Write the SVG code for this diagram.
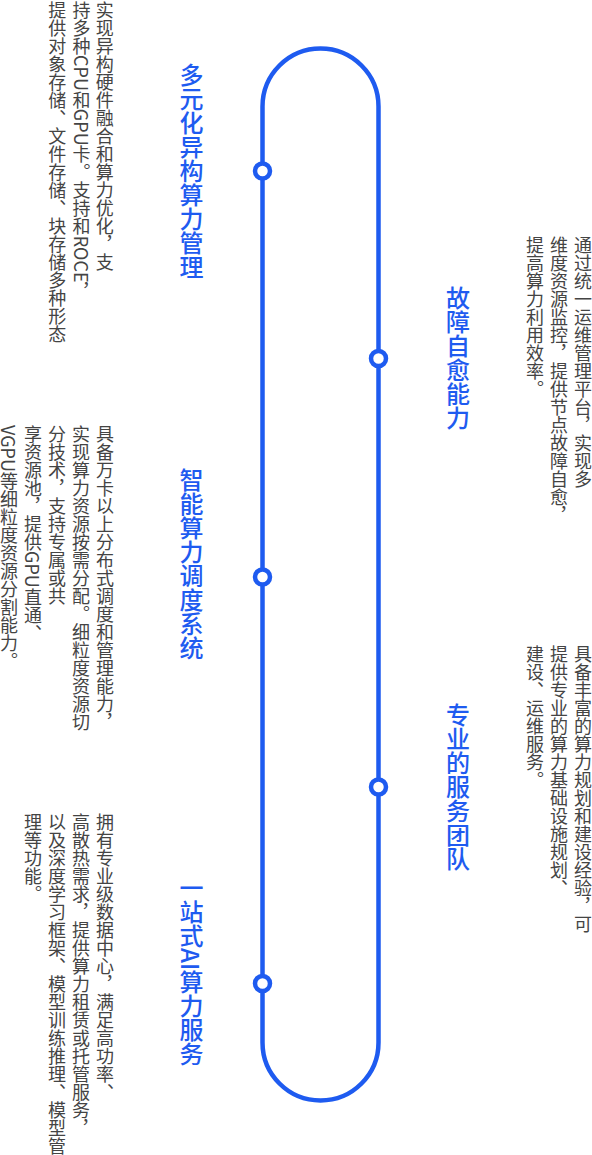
<svg xmlns="http://www.w3.org/2000/svg" width="592" height="1155" viewBox="0 0 592 1155">
<style>
.track{fill:none;stroke:#1e5bf0;stroke-width:4.5}
.dot{fill:#fff;stroke:#1e5bf0;stroke-width:4.5}
.title{font-family:"Noto Sans CJK SC","Noto Sans",sans-serif;font-size:24px;font-weight:500;fill:#1e5bf0;writing-mode:vertical-rl}
.body{font-family:"Noto Sans CJK SC","Noto Sans",sans-serif;font-size:18px;fill:#444;writing-mode:vertical-rl}
</style>
<rect width="592" height="1155" fill="#fff"/>
<g id="connectors">
<rect class="track" x="262.5" y="48.5" width="116" height="1052" rx="58" ry="58"/>
</g>
<g id="node1">
<circle class="dot" cx="262.5" cy="171" r="7.5"/>
<text class="title" x="191.5" y="63">多元化异构算力管理</text>
<text class="body" x="104.7" y="1">实现异构硬件融合和算力优化，支</text>
<text class="body" x="81.5" y="1">持多种CPU和GPU卡。支持和ROCE，</text>
<text class="body" x="57.2" y="1">提供对象存储、文件存储、块存储多种形态</text>
</g>
<g id="node2">
<circle class="dot" cx="378.5" cy="358.5" r="7.5"/>
<text class="title" x="458" y="286">故障自愈能力</text>
<text class="body" x="583" y="236">通过统一运维管理平台，实现多</text>
<text class="body" x="559" y="236">维度资源监控，提供节点故障自愈，</text>
<text class="body" x="535" y="236">提高算力利用效率。</text>
</g>
<g id="node3">
<circle class="dot" cx="262.5" cy="577" r="7.5"/>
<text class="title" x="191.5" y="468">智能算力调度系统</text>
<text class="body" x="105" y="425">具备万卡以上分布式调度和管理能力，</text>
<text class="body" x="81" y="425">实现算力资源按需分配。细粒度资源切</text>
<text class="body" x="57" y="425">分技术，支持专属或共</text>
<text class="body" x="33" y="425">享资源池，提供GPU直通、</text>
<text class="body" x="9" y="425">VGPU等细粒度资源分割能力。</text>
</g>
<g id="node4">
<circle class="dot" cx="378.5" cy="787" r="7.5"/>
<text class="title" x="458" y="703">专业的服务团队</text>
<text class="body" x="583" y="645">具备丰富的算力规划和建设经验，可</text>
<text class="body" x="559" y="645">提供专业的算力基础设施规划、</text>
<text class="body" x="535" y="645">建设、运维服务。</text>
</g>
<g id="node5">
<circle class="dot" cx="262.5" cy="983.5" r="7.5"/>
<text class="title" x="191.5" y="876">一站式AI算力服务</text>
<text class="body" x="105" y="813">拥有专业级数据中心，满足高功率、</text>
<text class="body" x="81" y="813">高散热需求，提供算力租赁或托管服务，</text>
<text class="body" x="57" y="813">以及深度学习框架、模型训练推理、模型管</text>
<text class="body" x="33" y="813">理等功能。</text>
</g>
</svg>
